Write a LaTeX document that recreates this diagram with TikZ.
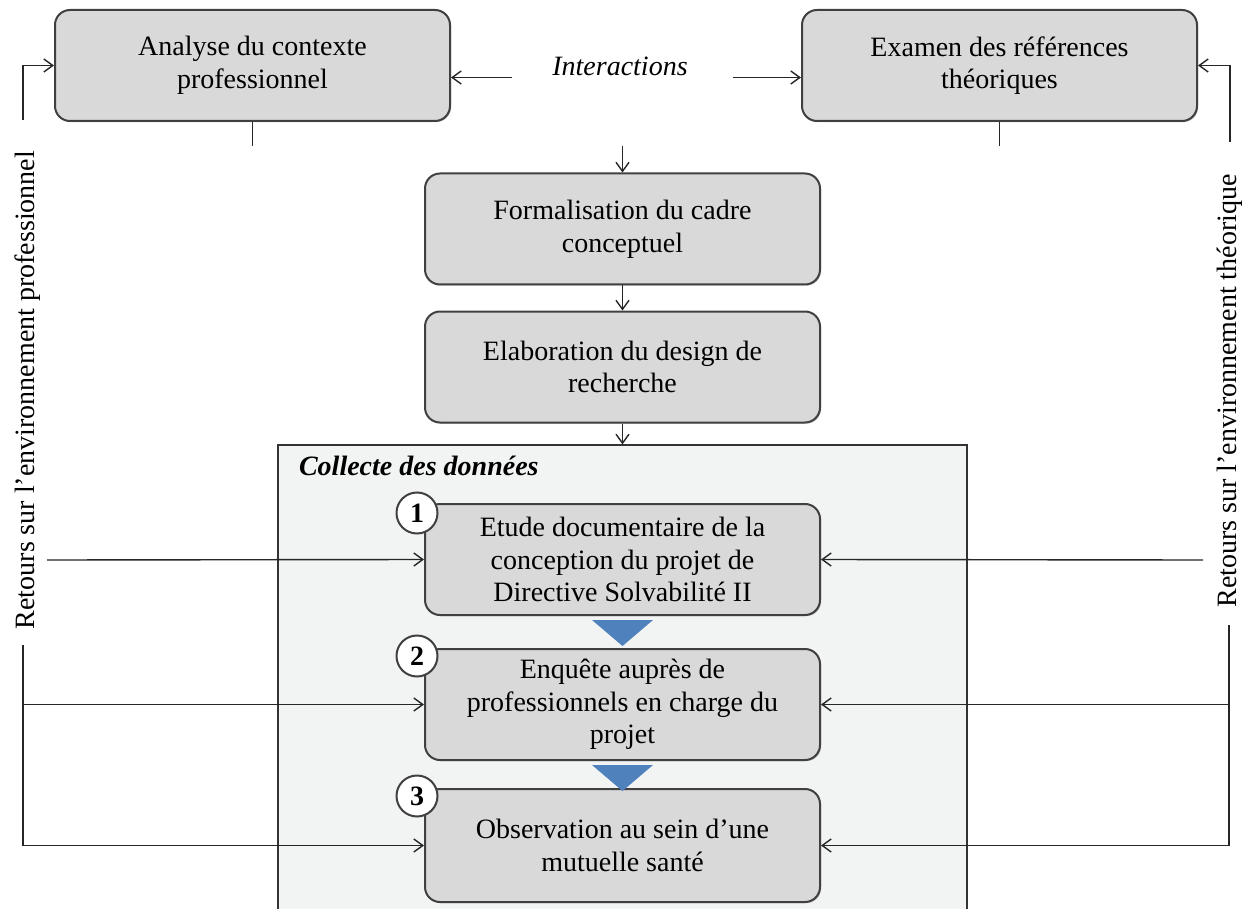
\documentclass[tikz,border=0pt]{standalone}
\usepackage{fontspec}
\setmainfont{Liberation Serif}
\usetikzlibrary{arrows.meta, positioning, calc, shadows}

\definecolor{grisboite}{RGB}{217,217,217}
\definecolor{griscadre}{RGB}{242,243,243}
\definecolor{bleutri}{RGB}{79,129,189}
\definecolor{traitgris}{RGB}{64,64,64}

\begin{document}
\begin{tikzpicture}[>={Straight Barb[length=4.5pt,width=6.5pt]}, x=0.5pt, y=-0.5pt, node distance=12.5pt, font=\fontsize{14}{16.3}\selectfont]
		\tikzstyle{boite}=[draw=traitgris, line width=1pt, fill=grisboite, rounded corners=7.5pt, minimum width=197.5pt, minimum height=55.5pt, align=center, drop shadow={shadow xshift=0.6pt, shadow yshift=-0.6pt, opacity=0.45}]
		\tikzstyle{pastille}=[circle, draw=traitgris, line width=1pt, fill=white, minimum size=20.5pt, inner sep=0pt, font=\fontsize{14}{16}\selectfont\bfseries]
		\tikzstyle{fleche}=[->, line width=0.7pt, draw=black!85]
		\tikzstyle{montant}=[line width=1.3pt, draw=black!85]
		\tikzstyle{triangle}=[fill=bleutri]
		
		\useasboundingbox (0,0) rectangle (1258,909);
		
		\node[draw=black!80, line width=0.6pt, fill=griscadre, minimum width=344.5pt, minimum height=240pt] (collecte) at (622.5,685) {};
		\node[anchor=base west, font=\fontsize{14}{16}\selectfont\bfseries\itshape] (titre) at (292,475) {Collecte des données};
		
		\node[boite] (A) at (252.5,65.5)   {Analyse du contexte\\professionnel};
		\node[boite] (E) at (999.5,65.5)   {Examen des références\\théoriques};
		\node[boite] (F) at (622.5,229)    {Formalisation du cadre\\conceptuel};
		\node[boite] (G) [below=of F]      {Elaboration du design de\\recherche};
		\node[boite] (B1) at (622.5,559.5) {Etude documentaire de la\\conception du projet de\\Directive Solvabilité II};
		\node[boite] (B2) at (622.5,704.5) {Enquête auprès de\\professionnels en charge du\\projet};
		\node[boite, minimum height=56.5pt] (B3) at (622.5,845.5) {Observation au sein d’une\\mutuelle santé};
		
		\fill[triangle] ($(B1.south)+(-30.5,4)$) -- ($(B1.south)+(30.5,4)$) -- ($(B2.north)+(0,-2)$) -- cycle;
		\fill[triangle] ($(B2.south)+(-30.5,4)$) -- ($(B2.south)+(30.5,4)$) -- ($(B3.north)+(0,3)$) -- cycle;
		
		\node[pastille] (n1) at (417,513) {1};
		\node[pastille] (n2) at (417,656) {2};
		\node[pastille] (n3) at (417,796) {3};
		
		\node[font=\fontsize{14}{16}\selectfont\itshape] (inter) at (620,66) {Interactions};
		\coordinate (ig) at ([shift={(-16.5pt,-5.75pt)}]inter.west);
		\coordinate (id) at ([shift={(19pt,-5.75pt)}]inter.east);
		\draw[fleche] (ig) -- (ig -| A.east);
		\draw[fleche] (id) -- (id -| E.west);
		
		\coordinate (jonction) at (622.5,146);
		\draw[line width=0.7pt, black!85] (A.south) -- (A.south |- jonction);
		\draw[line width=0.7pt, black!85] (E.south) -- (E.south |- jonction);
		\draw[fleche] (jonction) -- (F);
		\draw[fleche] (F) -- (G);
		\draw[fleche] (G) -- (collecte);
		
		\node[rotate=90] (retpro) at (28,390) {Retours sur l’environnement professionnel};
		\coordinate (gh) at (23,120);
		\draw[montant] (gh) -- (gh |- A.west);
		\draw[fleche] (gh |- A.west) -- (A.west);
		\coordinate (g1) at (47,560);
		\draw[fleche] (g1) -- (B1.west);
		\coordinate (gb) at (23,645);
		\draw[montant] (gb) -- (gb |- B3.west);
		\draw[fleche] (gb |- B2.west) -- (B2.west);
		\draw[fleche] (gb |- B3.west) -- (B3.west);
		
		\node[rotate=90] (retheo) at (1230,391) {Retours sur l’environnement théorique};
		\coordinate (dh) at (1230,142);
		\draw[montant] (dh) -- (dh |- E.east);
		\draw[fleche] (dh |- E.east) -- (E.east);
		\coordinate (d1) at (1203,560);
		\draw[fleche] (d1) -- (B1.east);
		\coordinate (db) at (1229,625);
		\draw[montant] (db) -- (db |- B3.east);
		\draw[fleche] (db |- B2.east) -- (B2.east);
		\draw[fleche] (db |- B3.east) -- (B3.east);
	\end{tikzpicture}
\end{document}
